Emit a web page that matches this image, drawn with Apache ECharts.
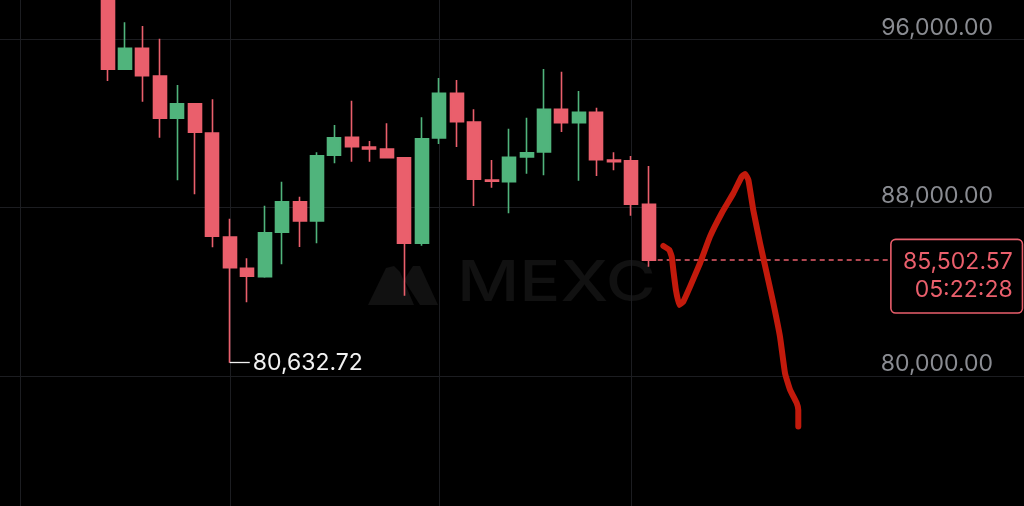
<!DOCTYPE html>
<html>
<head>
<meta charset="utf-8">
<script src="https://cdn.jsdelivr.net/npm/echarts@6/dist/echarts.min.js"></script>
<style>
  html, body { margin: 0; padding: 0; background: #000; }
  #chart { width: 1024px; height: 506px; }
</style>
</head>
<body>
<div id="chart"></div>
<script>
// ---- data ----
const firstSlot = 6;      // slot index of the first visible candle
const opens  = [98300, 94574, 95572, 94256, 92246, 92940, 91547, 86605, 85118, 84719, 86829, 88283, 87366, 90488, 91343, 90882, 90787, 90374, 86306, 91310, 93434, 92070, 89314, 89233, 90407, 90644, 92674, 92037, 92531, 90264, 90231, 88159];
const closes = [94574, 95572, 94270, 92246, 92940, 91581, 86639, 85146, 84738, 86810, 88283, 87366, 90469, 91324, 90896, 90787, 90374, 86306, 91277, 93434, 92084, 89347, 89252, 90393, 90611, 92674, 92037, 92531, 90279, 90184, 88159, 85502.57];
const lows   = [94018, 94550, 93035, 91324, 89300, 88634, 86116, 80632.72, 83502, 84671, 85308, 86130, 86306, 90108, 90184, 90184, 90345, 83816, 86192, 91025, 90882, 88078, 88948, 87731, 89613, 89537, 91595, 89281, 89504, 89775, 87617, 85194];
const highs  = [98800, 96808, 96632, 96029, 93828, 92960, 93149, 87475, 85593, 88093, 89233, 88520, 90630, 91928, 93082, 91167, 92008, 90400, 92293, 94161, 94066, 92674, 90264, 91752, 92274, 94589, 94460, 93543, 92750, 90630, 90454, 89979];
const lastPrice = 85502.57;
const countdown = '05:22:28';
const minPrice = 80632.72;
const minSlot = 13;
const gridSlots = [1, 13, 25, 36];
const yTicks = [80000, 88000, 96000];
// hand-drawn red annotation (slot position, price)
const strokeX = [37.84, 38.18, 38.32, 38.41, 38.56, 38.75, 38.98, 39.37, 39.94, 40.51, 41.18, 41.85, 42.33, 42.52, 42.71, 42.99, 43.38, 43.76, 44.14, 44.52, 44.81, 45.10, 45.48, 45.57, 45.57];
const strokeY = [86180, 85990, 85672, 85040, 84090, 83378, 83534, 84247, 85359, 86622, 87734, 88684, 89473, 89601, 89316, 87891, 86309, 84884, 83458, 81872, 80133, 79340, 78708, 78390, 77596];

// ---- build ----
const candleRows = opens.map((o, i) => [firstSlot + i, o, closes[i], lows[i], highs[i]]);
const strokeData = strokeX.map((x, i) => [x, strokeY[i]]);
const lastSlot = firstSlot + opens.length - 1;

const RED = '#ea5f6c';
const GREEN = '#50b47c';
const GRIDC = '#1c1d21';
const FONT = 'Inter, Roboto, sans-serif';
const FS = 23;
const fmt = v => v.toLocaleString('en-US', {minimumFractionDigits: 2, maximumFractionDigits: 2});

const chart = echarts.init(document.getElementById('chart'), null, {renderer: 'canvas'});
chart.setOption({
  backgroundColor: '#000',
  animation: false,
  grid: { left: 0, right: 0, top: 0, bottom: 0, containLabel: false },
  graphic: [
    { type: 'polygon', z: 0, silent: true,
      shape: { points: [[368, 305], [386, 268], [394, 266], [400, 272], [414, 305]] },
      style: { fill: '#111111' } },
    { type: 'polygon', z: 0, silent: true,
      shape: { points: [[404, 280], [413, 266], [420, 266], [438, 305], [420, 305]] },
      style: { fill: '#111111' } },
    { type: 'text', z: 0, silent: true, left: 457, top: 256, scaleX: 1.22,
      style: { text: 'MEXC', fill: '#111111', font: '500 56px ' + FONT } }
  ],
  xAxis: {
    type: 'value', min: -0.162, max: 58.50,
    axisLine: {show: false},
    axisTick: {show: false, customValues: gridSlots},
    axisLabel: {show: false, customValues: gridSlots},
    splitLine: { show: true, showMinLine: true, showMaxLine: true, lineStyle: { color: GRIDC, width: 1 } }
  },
  yAxis: {
    type: 'value', position: 'right', min: 73822, max: 97868,
    axisLine: {show: false},
    axisTick: {show: false, customValues: yTicks},
    splitLine: { show: true, lineStyle: { color: GRIDC, width: 1 } },
    axisLabel: { inside: true, margin: 31, verticalAlign: 'bottom', color: '#8a8c92',
      fontSize: FS, fontFamily: FONT, formatter: fmt, customValues: yTicks,
      showMinLabel: true, showMaxLabel: true }
  },
  series: [
    { type: 'candlestick', layout: 'horizontal',
      data: candleRows, encode: { x: 0, y: [1, 2, 3, 4] },
      barWidth: 13.5,
      itemStyle: { color: GREEN, color0: RED, borderColor: GREEN, borderColor0: RED, borderWidth: 1.6 }
    },
    { type: 'line', z: 10,
      data: strokeData, smooth: 0.12, showSymbol: false, symbol: 'none',
      lineStyle: { color: '#c21a0c', width: 6, cap: 'round', join: 'round' },
      markLine: {
        silent: true, symbol: ['none', 'none'], animation: false,
        data: [
          [ { coord: [lastSlot, lastPrice],
              lineStyle: { color: RED, type: [5, 4], width: 1.6 },
              label: { show: true, position: 'end', distance: 0, offset: [0, 16],
                formatter: '{a|' + fmt(lastPrice) + '}\n{a|' + countdown + '}',
                backgroundColor: '#000', borderColor: RED, borderWidth: 1.6, borderRadius: 4,
                padding: [8, 9, 8, 9],
                rich: { a: { width: 112, align: 'right', color: RED, fontSize: FS, lineHeight: 28, fontFamily: FONT } } } },
            { coord: [50.92, lastPrice] } ],
          [ { coord: [minSlot, minPrice],
              lineStyle: { color: '#f2f2f2', type: 'solid', width: 1.3 },
              label: { show: true, position: 'end', distance: 3, color: '#f2f2f2',
                fontSize: FS, fontFamily: FONT, formatter: fmt(minPrice) } },
            { coord: [minSlot + 1.146, minPrice] } ]
        ]
      }
    }
  ]
});
</script>
</body>
</html>
